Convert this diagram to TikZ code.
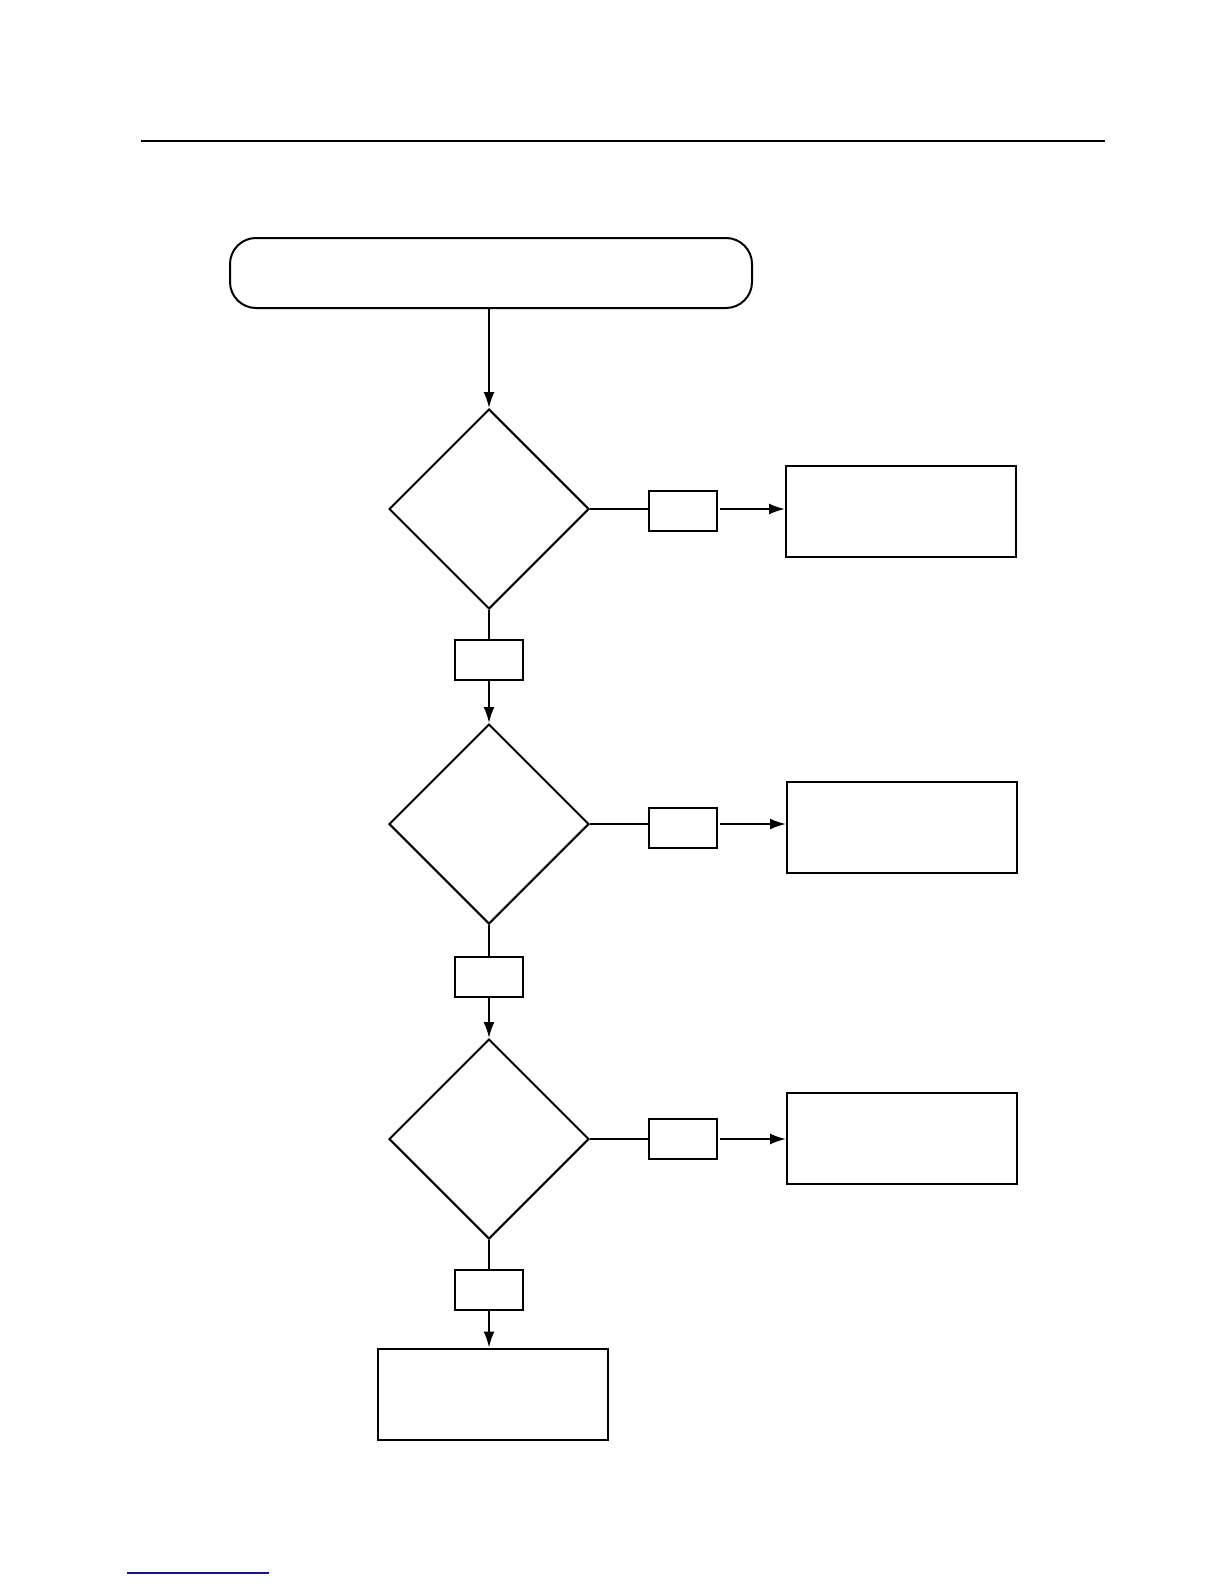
\documentclass[tikz,border=0pt]{standalone}
\usetikzlibrary{shapes.geometric,arrows.meta}
\definecolor{navyline}{RGB}{20,20,140}
\begin{document}
\begin{tikzpicture}[x=0.5pt,y=-0.5pt,line width=1pt,
  dec/.style={draw,shape=diamond,minimum width=100pt,minimum height=100pt,inner sep=0pt},
  lab/.style={draw,rectangle,minimum width=34pt,minimum height=20pt,inner sep=0pt},
  act/.style={draw,rectangle,minimum width=115pt,minimum height=45.5pt,inner sep=0pt},
  startbox/.style={draw,rectangle,rounded corners=13pt,minimum width=261pt,minimum height=35pt,inner sep=0pt},
  arr/.style={-{Latex[length=8pt,width=5.5pt]}}]
\useasboundingbox (0,0) rectangle (1224,1584);
\draw[line width=1.3pt] (141,141) -- (1105,141);
\draw[navyline,line width=0.7pt] (127,1573) -- (269,1573);
\node[startbox] (start) at (491,273) {};
\node[dec] (d1) at (489,509) {};
\node[dec] (d2) at (489,824) {};
\node[dec] (d3) at (489,1139) {};
\node[lab] (r1s) at (683,511) {};
\node[lab] (r2s) at (683,828) {};
\node[lab] (r3s) at (683,1139) {};
\node[lab] (b1s) at (489,660) {};
\node[lab] (b2s) at (489,977) {};
\node[lab] (b3s) at (489,1290) {};
\node[act] (r1) at (901,511) {};
\node[act] (r2) at (902,827) {};
\node[act] (r3) at (902,1138) {};
\node[act] (e) at (493,1394) {};
\draw[arr] (start.south -| d1.north) -- (d1.north);
\draw (d1.east) -- (d1.east -| r1s.west);
\draw (d2.east) -- (d2.east -| r2s.west);
\draw (d3.east) -- (d3.east -| r3s.west);
\draw[arr] ([xshift=1pt]r1s.east |- d1.east) -- (d1.east -| r1.west);
\draw[arr] ([xshift=1pt]r2s.east |- d2.east) -- (d2.east -| r2.west);
\draw[arr] ([xshift=1pt]r3s.east |- d3.east) -- (d3.east -| r3.west);
\draw (d1.south) -- (b1s.north);
\draw (d2.south) -- (b2s.north);
\draw (d3.south) -- (b3s.north);
\draw[arr] (b1s.south) -- (d2.north);
\draw[arr] (b2s.south) -- (d3.north);
\draw[arr] (b3s.south) -- (b3s.south |- e.north);
\end{tikzpicture}
\end{document}
